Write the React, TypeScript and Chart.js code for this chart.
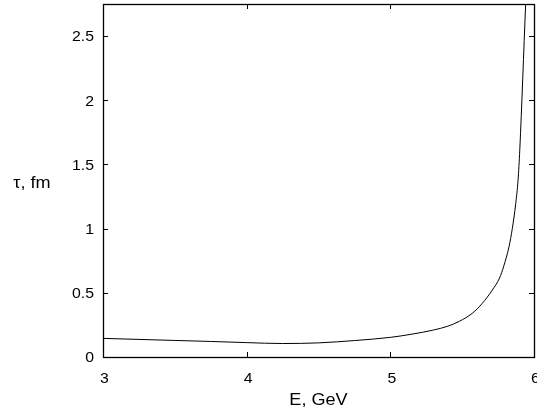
import React, { useEffect, useRef } from "react";
import { Chart, registerables } from "chart.js";

Chart.register(...registerables);

// Data
const energyGeV = [3.0, 3.25, 3.5, 3.75, 4.0, 4.25, 4.5, 4.75, 5.0, 5.15, 5.3, 5.4, 5.48, 5.57, 5.64, 5.71, 5.76, 5.79, 5.826, 5.849, 5.873, 5.889, 5.901, 5.942, 5.95];
const tauFm = [0.145, 0.137, 0.129, 0.121, 0.112, 0.105, 0.11, 0.128, 0.153, 0.178, 0.21, 0.24, 0.278, 0.34, 0.418, 0.522, 0.615, 0.71, 0.859, 1.0, 1.197, 1.378, 1.612, 2.75, 2.95];
const xTicks = [3, 4, 5, 6];
const yTicks = [0, 0.5, 1, 1.5, 2, 2.5];
const yTickLabels = ["0", "0.5", "1", "1.5", "2", "2.5"];
const xTitle = "E, GeV";
const yTitle = "τ, fm";

const FONT = '"Liberation Sans", Arial, Helvetica, sans-serif';
const STRETCH = 1.13;

function drawText(ctx: CanvasRenderingContext2D, text: string, x: number, y: number, align: CanvasTextAlign, baseline: CanvasTextBaseline, size: number) {
  ctx.save();
  ctx.translate(x, y);
  ctx.scale(STRETCH, 1);
  ctx.font = `${size}px ${FONT}`;
  ctx.textAlign = align;
  ctx.textBaseline = baseline;
  ctx.fillStyle = "#000";
  ctx.fillText(text, 0, 0);
  ctx.restore();
}

const framePlugin = {
  id: "gnuplotFrame",
  afterDraw(chart: any) {
    const ctx: CanvasRenderingContext2D = chart.ctx;
    const { left, right, top, bottom } = chart.chartArea;
    const xs = chart.scales.x;
    const ys = chart.scales.y;
    const tl = 5;
    ctx.save();
    ctx.strokeStyle = "#000";
    ctx.lineWidth = 1;
    ctx.beginPath();
    for (const v of xTicks) {
      const px = Math.round(xs.getPixelForValue(v)) + 0.5;
      ctx.moveTo(px, bottom);
      ctx.lineTo(px, bottom - tl);
      ctx.moveTo(px, top);
      ctx.lineTo(px, top + tl);
    }
    for (const v of yTicks) {
      const py = Math.round(ys.getPixelForValue(v)) + 0.5;
      ctx.moveTo(left, py);
      ctx.lineTo(left + tl, py);
      ctx.moveTo(right, py);
      ctx.lineTo(right - tl, py);
    }
    ctx.stroke();
    ctx.lineWidth = 1.3;
    ctx.strokeRect(Math.round(left) + 0.5, Math.round(top) + 0.5, Math.round(right - left), Math.round(bottom - top));
    ctx.restore();

    xTicks.forEach((v) => {
      drawText(ctx, String(v), xs.getPixelForValue(v) + 1.5, bottom + 26, "center", "alphabetic", 14);
    });
    yTicks.forEach((v, i) => {
      drawText(ctx, yTickLabels[i], left - 9, ys.getPixelForValue(v) + 1.5, "right", "middle", 14);
    });
    drawText(ctx, xTitle, (left + right) / 2, bottom + 48, "center", "alphabetic", 16);
    drawText(ctx, yTitle, 32, (top + bottom) / 2 + 7, "center", "alphabetic", 16);
  },
};

export default function App() {
  const ref = useRef<HTMLCanvasElement | null>(null);
  useEffect(() => {
    document.body.style.margin = "0";
    const points = energyGeV.map((e, i) => ({ x: e, y: tauFm[i] }));
    const chart = new Chart(ref.current as HTMLCanvasElement, {
      type: "scatter",
      data: {
        datasets: [
          {
            data: points,
            showLine: true,
            borderColor: "#000",
            borderWidth: 1,
            pointRadius: 0,
            cubicInterpolationMode: "monotone",
          },
        ],
      },
      options: {
        animation: false,
        responsive: true,
        maintainAspectRatio: false,
        layout: { padding: { left: 103, right: 3, top: 4, bottom: 58 } },
        plugins: { legend: { display: false }, tooltip: { enabled: false } },
        scales: {
          x: { type: "linear", min: 3, max: 6, display: false },
          y: { type: "linear", min: 0, max: 2.75, display: false },
        },
      },
      plugins: [framePlugin],
    });
    return () => chart.destroy();
  }, []);
  return (
    <div style={{ position: "absolute", left: 0, top: 0, width: 537, height: 415, background: "#fff" }}>
      <canvas ref={ref} />
    </div>
  );
}
